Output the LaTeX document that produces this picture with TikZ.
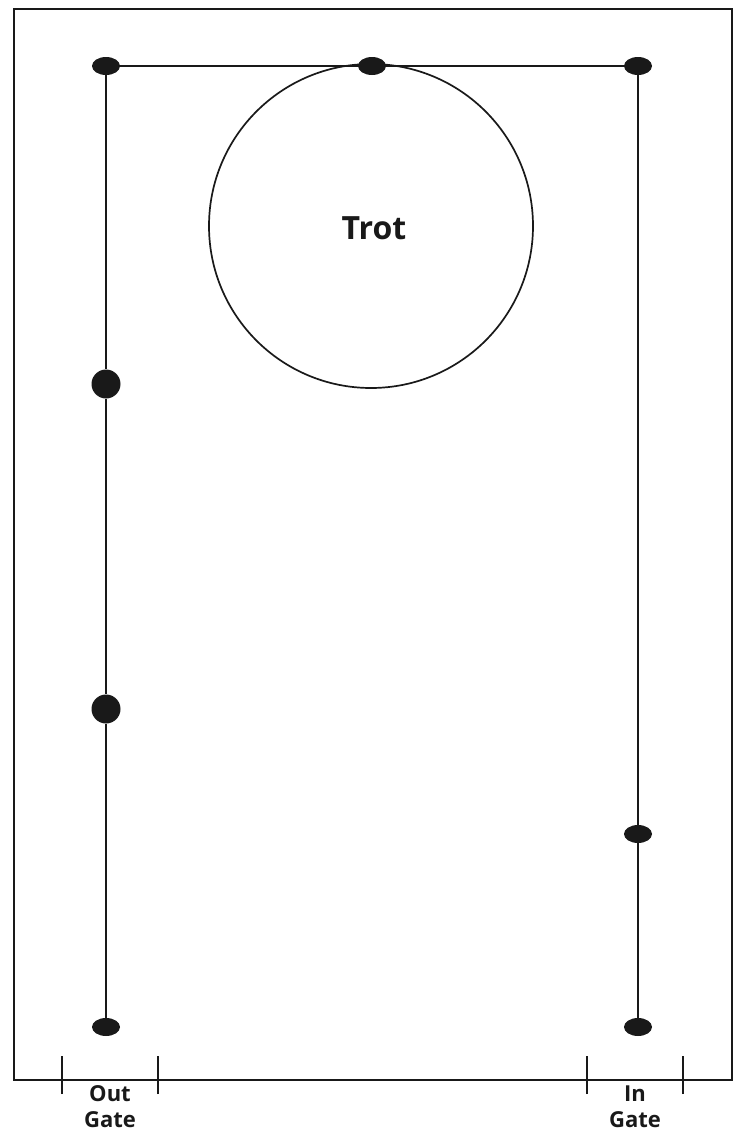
\documentclass[tikz,border=0pt]{standalone}
\usepackage{fontspec}
\setmainfont{Open Sans}
\usetikzlibrary{shapes.geometric}
\begin{document}
\begin{tikzpicture}[x=1pt,y=-1pt,
  wall/.style={line width=2.4pt,draw=black!90},
  rail/.style={line width=2.2pt,draw=black!90},
  post/.style={ellipse,fill=black!90,inner sep=0pt,minimum width=28pt,minimum height=18pt},
  bigpost/.style={circle,fill=black!90,inner sep=0pt,minimum size=29pt},
  lbl/.style={font=\bfseries\fontsize{22}{26}\selectfont,align=center,text=black!90,inner sep=1pt}]
\useasboundingbox (0,0) rectangle (740,1135);
\fill[white] (0,0) rectangle (740,1135);
% arena wall
\draw[wall] (14,1080) -- (14,9) -- (732,9) -- (732,1080) -- cycle;
% gate ticks
\coordinate (og1) at (62,1080);
\coordinate (og2) at (158,1080);
\coordinate (ig1) at (587,1080);
\coordinate (ig2) at (683,1080);
\foreach \c in {og1,og2,ig1,ig2}
  \draw[rail] ([yshift=-14pt]\c) -- ([yshift=24pt]\c);
% trot circle
\node[circle,draw=black!90,line width=1.7pt,minimum size=324pt,inner sep=0pt] (trotc) at (371,226) {};
\node[font=\bfseries\fontsize{32}{36}\selectfont,text=black!90] (trot) at (374,228) {Trot};
% posts
\node[post] (tl) at (106,66) {};
\node[post] (tm) at (372,66) {};
\node[post] (tr) at (638,66) {};
\node[bigpost] (l1) at (106,384) {};
\node[bigpost] (l2) at (106,709) {};
\node[post] (bl) at (106,1027) {};
\node[post] (r1) at (638,834) {};
\node[post] (br) at (638,1027) {};
% rails
\draw[rail] (tl) -- (tm) -- (tr);
\draw[rail] (tl) -- (l1) -- (l2) -- (bl);
\draw[rail] (tr) -- (r1) -- (br);
% labels
\node[lbl] (outg) at (110,1107) {Out\\Gate};
\node[lbl] (ing) at (635,1107) {In\\Gate};
\end{tikzpicture}
\end{document}
